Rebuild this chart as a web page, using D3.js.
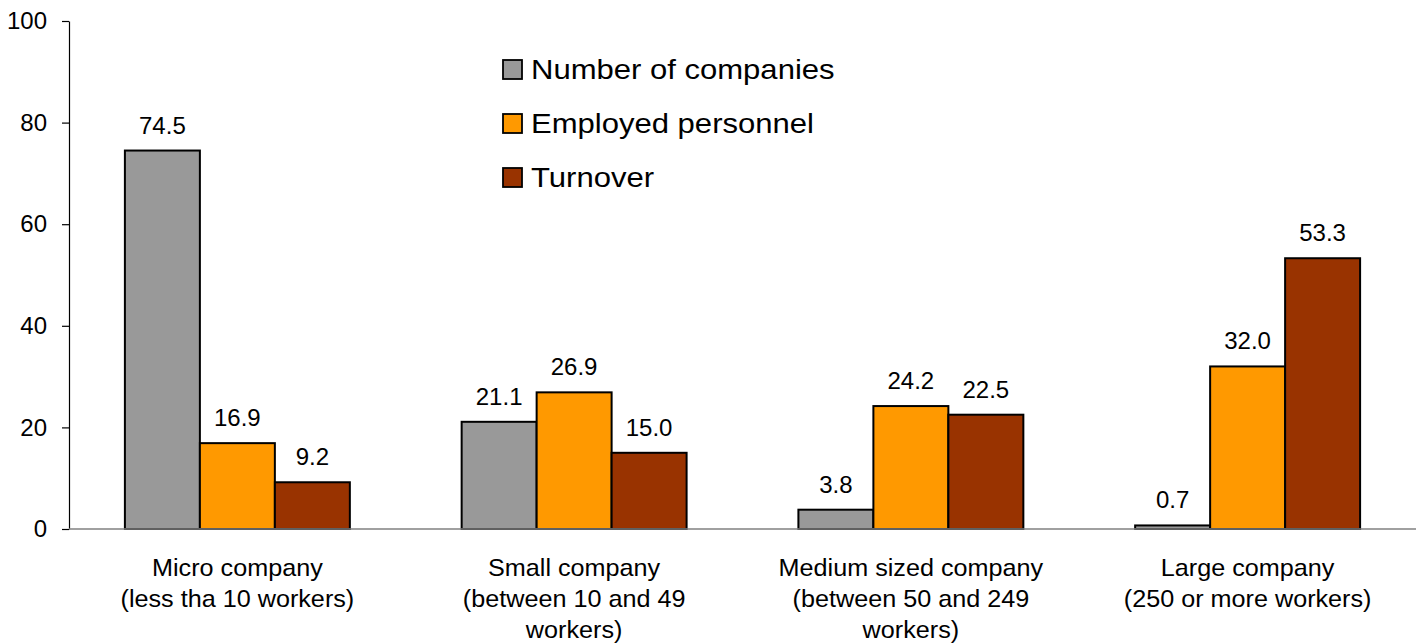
<!DOCTYPE html>
<html>
<head>
<meta charset="utf-8">
<script src="https://cdn.jsdelivr.net/npm/d3@7/dist/d3.min.js"></script>
<style>
  html, body { margin: 0; padding: 0; background: #fff; }
  svg { display: block; font-family: "Liberation Sans", Arial, sans-serif; }
</style>
</head>
<body>
<svg id="chart" width="1423" height="644"></svg>
<script>
// Company size categories (each entry is the label split into lines)
const categories = [
  ["Micro company", "(less tha 10 workers)"],
  ["Small company", "(between 10 and 49", "workers)"],
  ["Medium sized company", "(between 50 and 249", "workers)"],
  ["Large company", "(250 or more workers)"]
];
const seriesNames = ["Number of companies", "Employed personnel", "Turnover"];
const seriesColors = ["#999999", "#FF9900", "#993300"];
const numberOfCompanies = [74.5, 21.1, 3.8, 0.7];
const employedPersonnel = [16.9, 26.9, 24.2, 32.0];
const turnover = [9.2, 15.0, 22.5, 53.3];
const yTicks = [0, 20, 40, 60, 80, 100];

const seriesValues = [numberOfCompanies, employedPersonnel, turnover];
const catKeys = categories.map(c => c.join(" "));

const svg = d3.select("#chart");
const plotLeft = 69, plotRight = 1416, plotTop = 21, plotBottom = 529;

const x = d3.scaleBand().domain(catKeys).range([plotLeft, plotRight])
  .paddingInner(0.332).paddingOuter(0.166);
const xs = d3.scaleBand().domain(seriesNames).range([0, x.bandwidth()]).padding(0);
const y = d3.scaleLinear().domain([0, 100]).range([plotBottom, plotTop]);

// Y axis
const yAxis = svg.append("g")
  .attr("transform", `translate(${plotLeft},0)`)
  .call(d3.axisLeft(y).tickValues(yTicks).tickSize(7).tickPadding(15).tickSizeOuter(0));
yAxis.select(".domain").attr("stroke", "#000").attr("stroke-width", 1.2);
yAxis.selectAll(".tick line").attr("stroke", "#000").attr("stroke-width", 1.2);
yAxis.selectAll(".tick text")
  .attr("font-family", "'Liberation Sans', Arial, sans-serif")
  .attr("font-size", 24).attr("fill", "#000");

// Bars
const groups = svg.append("g").selectAll("g")
  .data(catKeys).join("g")
  .attr("transform", d => `translate(${x(d)},0)`);

groups.each(function(cat, ci) {
  const g = d3.select(this);
  seriesNames.forEach((s, si) => {
    const v = seriesValues[si][ci];
    g.append("rect")
      .attr("x", xs(s))
      .attr("y", y(v))
      .attr("width", xs.bandwidth())
      .attr("height", y(0) - y(v))
      .attr("fill", seriesColors[si])
      .attr("stroke", "#000")
      .attr("stroke-width", 2);
    g.append("text")
      .attr("x", xs(s) + xs.bandwidth() / 2)
      .attr("y", y(v) - 17)
      .attr("text-anchor", "middle")
      .attr("font-size", 24)
      .attr("fill", "#000")
      .text(v.toFixed(1));
  });
});

// X axis baseline
svg.append("line")
  .attr("x1", plotLeft).attr("x2", plotRight)
  .attr("y1", y(0)).attr("y2", y(0))
  .attr("stroke", "#808080").attr("stroke-width", 1.5);

// Category labels
categories.forEach((lines, ci) => {
  const cx = x(catKeys[ci]) + x.bandwidth() / 2;
  lines.forEach((line, li) => {
    svg.append("text")
      .attr("transform", `translate(${cx},${576 + li * 31}) scale(1.05,1)`)
      .attr("text-anchor", "middle")
      .attr("font-size", 24)
      .attr("fill", "#000")
      .text(line);
  });
});

// Legend
const legend = svg.append("g").attr("transform", "translate(503,0)");
seriesNames.forEach((s, si) => {
  const by = 79 + si * 54;
  legend.append("rect")
    .attr("x", 0).attr("y", by - 19)
    .attr("width", 19).attr("height", 19)
    .attr("fill", seriesColors[si])
    .attr("stroke", "#000").attr("stroke-width", 1.8);
  legend.append("text")
    .attr("transform", `translate(28,${by}) scale(1.15,1)`)
    .attr("font-size", 27)
    .attr("fill", "#000")
    .text(s);
});
</script>
</body>
</html>
